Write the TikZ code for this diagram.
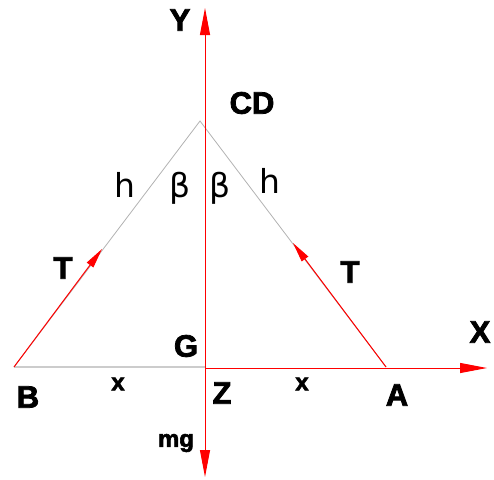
\documentclass[tikz,border=0pt]{standalone}
\usepackage{fontspec}
\setmainfont{Liberation Sans}[BoldFeatures={FakeBold=2.5}]
\newfontfamily\thinfont{DejaVu Sans}
\usetikzlibrary{arrows.meta}
\tikzset{
  axis/.style={-{Triangle[length=27pt,width=10pt]}, red, line width=1pt},
  force/.style={-{Triangle[length=20pt,width=8pt]}, red, line width=1pt},
  rope/.style={draw, gray!60, line width=0.8pt},
  base/.style={draw, gray!40, line width=2pt},
  lbl/.style={font=\fontsize{31}{31}\selectfont\bfseries, inner sep=0pt},
  sml/.style={font=\fontsize{24}{24}\selectfont\bfseries, inner sep=0pt},
  ang/.style={font=\fontsize{33}{33}\thinfont, inner sep=0pt}
}
\begin{document}
\begin{tikzpicture}[x=1pt,y=-1pt]
\useasboundingbox (0,0) rectangle (494,479);
\coordinate (cd) at (200,121);
\coordinate (b) at (14,367);
\coordinate (a) at (386,367);
\coordinate (z) at (205,367);
\coordinate (ytip) at (205,8);
\coordinate (mgtip) at (205,477);
\coordinate (xtip) at (487,368);
\coordinate (tb) at (102,249);
\coordinate (ta) at (293,243);
% triangle and base
\draw[rope] (b) -- (cd) -- (a);
\draw[base] (b) -- (z);
% axes
\draw[axis] (z) -- (ytip);
\draw[axis] (z) -- (mgtip);
\draw[axis] (205,368) -- (xtip);
% tensions
\draw[force] (b) -- (tb);
\draw[force] (a) -- (ta);
% labels
\node[lbl] (ylab) at (180,20) {Y};
\node[lbl] (cdlab) at (252,103) {CD};
\node[ang] (hl) at (125,185) {h};
\node[ang] (bl) at (180,188) {β};
\node[ang] (br) at (220,188) {β};
\node[ang] (hr) at (270,181) {h};
\node[lbl] (tl) at (63,268) {T};
\node[lbl] (tr) at (350,272) {T};
\node[lbl] (glab) at (186,346) {G};
\node[lbl] (xlab) at (480,332) {X};
\node[lbl] (blab) at (28,397) {B};
\node[sml] (xl) at (118,384) {x};
\node[lbl] (zlab) at (222,393) {Z};
\node[sml] (xr) at (302,384) {x};
\node[lbl] (alab) at (397,395) {A};
\node[sml] (mglab) at (176,443) {mg};
\end{tikzpicture}
\end{document}
